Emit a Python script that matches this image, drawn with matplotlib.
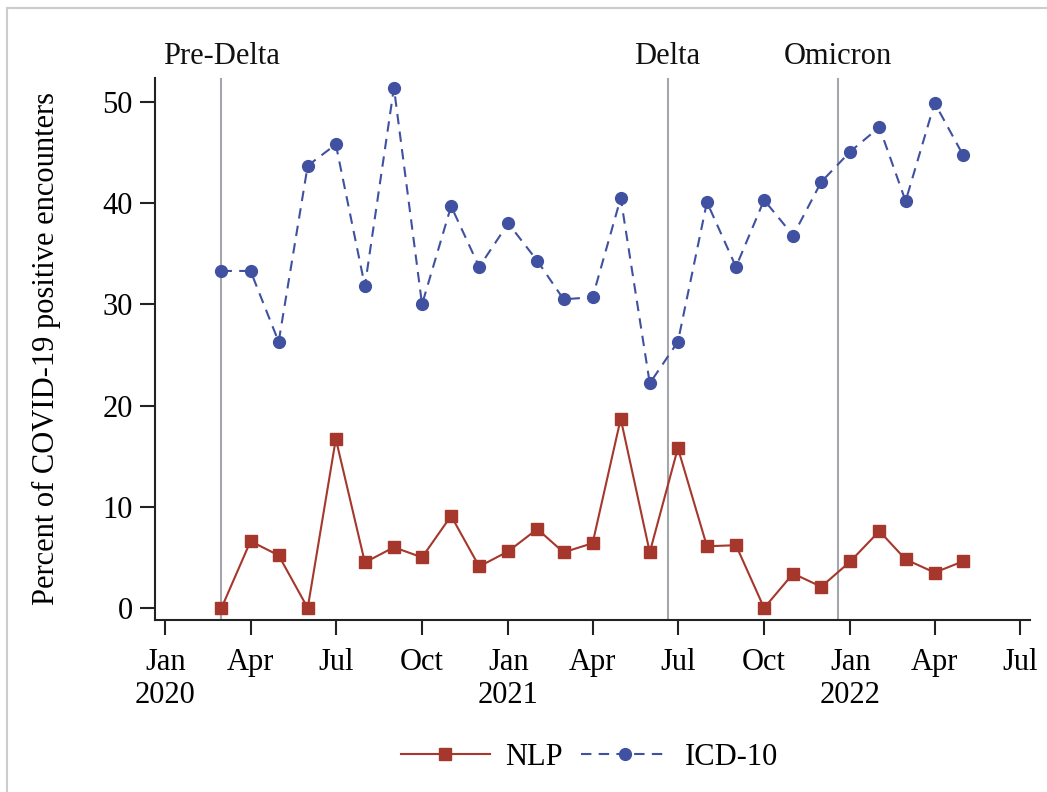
import numpy as np
import pandas as pd
import matplotlib
matplotlib.use("Agg")
import matplotlib.pyplot as plt
import matplotlib.dates as mdates
from matplotlib.patches import Rectangle

plt.rcParams["font.family"] = ["Liberation Serif", "DejaVu Serif"]

RED = "#a5372c"
BLUE = "#3f51a0"
GRAY = "#a3a7ab"

months = pd.date_range("2020-03-01", "2022-05-01", freq="MS")
nlp = [0.0, 6.6, 5.2, 0.0, 16.7, 4.5, 6.0, 5.0, 9.1, 4.1,
       5.6, 7.8, 5.5, 6.4, 18.7, 5.5, 15.8, 6.1, 6.2, 0.0, 3.4, 2.1,
       4.6, 7.6, 4.8, 3.5, 4.6]
icd10 = [33.3, 33.3, 26.3, 43.7, 45.8, 31.8, 51.4, 30.0, 39.7, 33.7,
         38.0, 34.3, 30.5, 30.7, 40.5, 22.2, 26.3, 40.1, 33.7, 40.3, 36.8, 42.1,
         45.1, 47.5, 40.2, 49.9, 44.8]

wave_names = ["Pre-Delta", "Delta", "Omicron"]
wave_dates = pd.to_datetime(["2020-03-01", "2021-06-20", "2021-12-19"])

FS = 22

fig = plt.figure(figsize=(10.47, 7.92), dpi=100, facecolor="white")
ax = fig.add_axes([0.148, 0.217, 0.836, 0.685])

# ── marcos de onda ───────────────────────────────────────────────────────────
for d, name in zip(wave_dates, wave_names):
    ax.axvline(d, color=GRAY, lw=1.5, zorder=1)
    ax.text(d, 1.012, name, transform=ax.get_xaxis_transform(),
            ha="center", va="bottom", fontsize=FS, color="#111")

# ── series ───────────────────────────────────────────────────────────────────
ax.plot(months, nlp, color=RED, lw=1.5, marker="s", ms=9,
        label="NLP", zorder=3)
ax.plot(months, icd10, color=BLUE, lw=1.5, ls=(0, (5, 3.5)), marker="o",
        ms=8.5, label="ICD-10", zorder=3)

# ── ejes ─────────────────────────────────────────────────────────────────────
ax.set_xlim(pd.Timestamp("2019-12-21"), pd.Timestamp("2022-07-12"))
ax.set_ylim(-1.2, 52.4)
ax.set_yticks([0, 10, 20, 30, 40, 50])

ticks = pd.date_range("2020-01-01", "2022-07-01", freq="QS")
ax.set_xticks(ticks)
ax.set_xticklabels([t.strftime("%b") + ("\n%d" % t.year if t.month == 1 else "")
                    for t in ticks])

for s in ["top", "right"]:
    ax.spines[s].set_visible(False)
for s in ["left", "bottom"]:
    ax.spines[s].set_linewidth(1.5)
    ax.spines[s].set_color("#222")
ax.tick_params(axis="both", labelsize=FS, length=11, width=1.5,
               color="#222", direction="out", pad=5)
ax.tick_params(axis="x", pad=9)
for lbl in ax.get_xticklabels():
    lbl.set_verticalalignment("top")
    lbl.set_multialignment("center")

ax.set_ylabel("Percent of COVID-19 positive encounters", fontsize=FS, labelpad=30)

fig.legend(loc="center", bbox_to_anchor=(0.563, 0.044), ncol=2, frameon=False,
           fontsize=FS, handlelength=2.9, columnspacing=0.6, handletextpad=0.5)

# marco gris de la figura (solo bordes superior e izquierdo visibles)
fig.patches.append(Rectangle((0.007, -0.1), 1.2, 1.09, transform=fig.transFigure,
                             fill=False, edgecolor="#cccccc", lw=1.5))

fig.savefig("out.png", dpi=100, facecolor="white")
